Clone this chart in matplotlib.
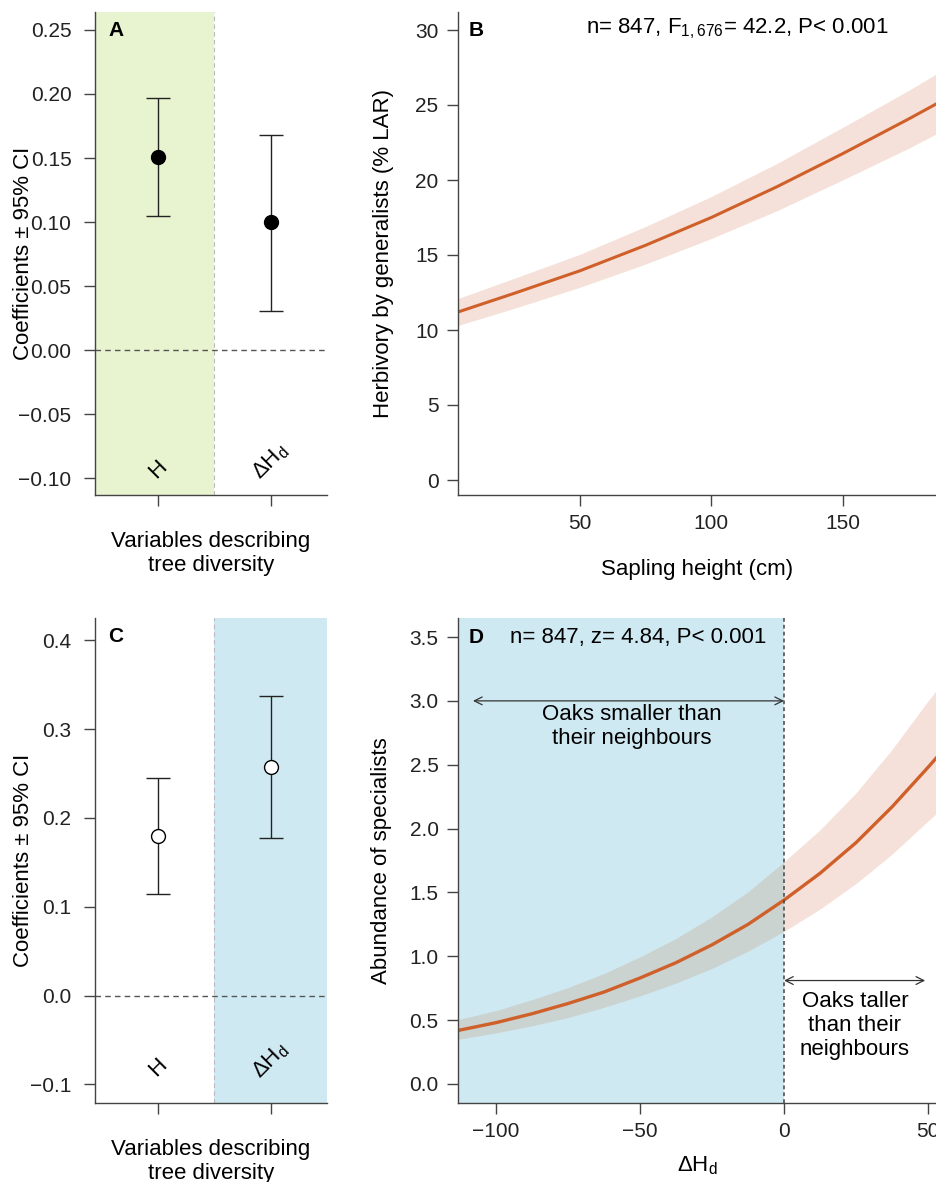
import matplotlib
matplotlib.use("Agg")
from matplotlib import pyplot as plt

plt.rcParams['font.family'] = ['Liberation Sans', 'DejaVu Sans']
plt.rcParams['mathtext.fontset'] = 'custom'
plt.rcParams['mathtext.rm'] = 'Liberation Sans'
plt.rcParams['mathtext.it'] = 'Liberation Sans:italic'
plt.rcParams['font.size'] = 16

# panel A / C: coefficient estimates with 95% CI
var_pos = [1, 2]
var_names = ['H', 'ΔH$_{\\mathrm{d}}$']
a_coef = [0.151, 0.100]
a_lo = [0.105, 0.031]
a_hi = [0.197, 0.168]
c_coef = [0.180, 0.257]
c_lo = [0.114, 0.177]
c_hi = [0.245, 0.337]
a_yticks = [-0.10, -0.05, 0.00, 0.05, 0.10, 0.15, 0.20, 0.25]
c_yticks = [-0.1, 0.0, 0.1, 0.2, 0.3, 0.4]

# panel B: herbivory vs sapling height
b_height = [3.5, 25, 50, 75, 100, 125, 150, 175, 186]
b_fit = [11.2, 12.45, 13.95, 15.65, 17.5, 19.55, 21.75, 24.05, 25.1]
b_lo = [10.3, 11.45, 12.85, 14.4, 16.1, 17.95, 20.0, 22.1, 23.1]
b_hi = [12.1, 13.45, 15.05, 16.9, 18.9, 21.1, 23.5, 25.95, 27.1]

# panel D: specialists vs delta Hd
d_x = [-113, -100, -87.5, -75, -62.5, -50, -37.5, -25, -12.5, 0, 12.5, 25, 37.5, 50, 53.5]
d_fit = [0.42, 0.48, 0.55, 0.63, 0.72, 0.83, 0.95, 1.09, 1.25, 1.44, 1.65, 1.89, 2.17, 2.48, 2.57]
d_hi = [0.505, 0.575, 0.66, 0.755, 0.865, 0.995, 1.14, 1.31, 1.505, 1.74, 1.99, 2.28, 2.62, 3.0, 3.1]
d_lo = [0.35, 0.40, 0.455, 0.52, 0.60, 0.69, 0.79, 0.905, 1.04, 1.195, 1.37, 1.57, 1.80, 2.06, 2.13]

green = '#e8f3d0'
blue = '#cfe9f2'
band = '#f5e1d9'
overlap = '#cbd3d1'
line_col = '#d0602a'
spine_col = '#444444'

W, H = 937, 1182
fig = plt.figure(figsize=(W / 100, H / 100), dpi=100)


def box(l, t, r, b):
    return [l / W, 1 - b / H, (r - l) / W, (b - t) / H]


axA = fig.add_axes(box(95, 12, 327, 495))
axB = fig.add_axes(box(458, 12, 937, 495))
axC = fig.add_axes(box(95, 618, 327, 1103))
axD = fig.add_axes(box(458, 618, 937, 1103))


def style(ax, pad=6):
    for s in ['top', 'right']:
        ax.spines[s].set_visible(False)
    for s in ['left', 'bottom']:
        ax.spines[s].set_color(spine_col)
        ax.spines[s].set_linewidth(1.0)
    ax.tick_params(length=8, width=1, color=spine_col, pad=pad, labelsize=15, labelcolor='#222222')


def fmt(v, nd):
    return f"{v:.{nd}f}".replace('-', '\u2212')


def coef_panel(ax, coef, lo, hi, yticks, nd, ylim, shade_x, shade_col, face, label, lab_y):
    style(ax, pad=9)
    ax.set_xlim(0.44, 2.5)
    ax.set_ylim(*ylim)
    ax.axvspan(shade_x[0], shade_x[1], color=shade_col, zorder=0, lw=0)
    ax.axvline(1.5, color='#bbbbbb', lw=0.8, ls=(0, (4, 3)), zorder=0.5)
    ax.axhline(0, color='#555555', lw=1, ls=(0, (4, 3)), zorder=1)
    yerr = [[c - l for c, l in zip(coef, lo)], [h - c for c, h in zip(coef, hi)]]
    ax.errorbar(var_pos, coef, yerr=yerr, fmt='o', color='black', ecolor='#222222',
                elinewidth=1, capsize=8.5, capthick=1, markersize=10,
                markerfacecolor=face, markeredgecolor='black', markeredgewidth=1, zorder=3)
    ax.set_xticks(var_pos)
    ax.set_xticklabels([])
    ax.set_yticks(yticks)
    ax.set_yticklabels([fmt(v, nd) for v in yticks])
    for p, name, yy in zip(var_pos, var_names, lab_y):
        ax.text(p, yy, name, rotation=45, ha='center', va='center', fontsize=16)
    ax.set_ylabel('Coefficients \u00b1 95% CI', fontsize=16)
    ax.yaxis.set_label_coords(-0.263, 0.5)
    ax.set_xlabel('Variables describing\ntree diversity', fontsize=16, linespacing=1.2)
    ax.xaxis.set_label_coords(0.5, -0.074)
    ax.text(0.09, 0.962, label, transform=ax.transAxes, fontweight='bold',
            ha='center', va='center', fontsize=15)


coef_panel(axA, a_coef, a_lo, a_hi, a_yticks, 2, (-0.113, 0.264),
           (0.44, 1.5), green, 'black', 'A', [-0.093, -0.087])
coef_panel(axC, c_coef, c_lo, c_hi, c_yticks, 1, (-0.121, 0.425),
           (1.5, 2.5), blue, 'white', 'C', [-0.081, -0.073])

# panel B
style(axB)
axB.set_xlim(3.5, 186)
axB.set_ylim(-1.0, 31.2)
axB.fill_between(b_height, b_lo, b_hi, color=band, lw=0, zorder=1)
axB.plot(b_height, b_fit, color=line_col, lw=2.2, zorder=2)
axB.set_xticks([50, 100, 150])
axB.set_yticks([0, 5, 10, 15, 20, 25, 30])
axB.set_xlabel('Sapling height (cm)', fontsize=16)
axB.xaxis.set_label_coords(0.5, -0.132)
axB.set_ylabel('Herbivory by generalists (% LAR)', fontsize=16)
axB.yaxis.set_label_coords(-0.134, 0.5)
axB.text(0.038, 0.962, 'B', transform=axB.transAxes, fontweight='bold',
         ha='center', va='center', fontsize=15)
axB.text(0.583, 0.965, 'n= 847, F$_{\\mathrm{1,676}}$= 42.2, P< 0.001',
         transform=axB.transAxes, ha='center', va='center', fontsize=16)

# panel D
style(axD)
axD.set_xlim(-113.2, 53.1)
axD.set_ylim(-0.149, 3.649)
axD.axvspan(-113.2, 0, color=blue, zorder=0, lw=0)
k = d_x.index(0)
axD.fill_between(d_x[:k + 1], d_lo[:k + 1], d_hi[:k + 1], color=overlap, lw=0, zorder=1)
axD.fill_between(d_x[k:], d_lo[k:], d_hi[k:], color=band, lw=0, zorder=1)
axD.plot(d_x, d_fit, color=line_col, lw=2.4, zorder=2)
axD.axvline(0, color='#444444', lw=1.1, ls=(0, (2.5, 2)), zorder=3)
axD.set_xticks([-100, -50, 0, 50])
axD.set_xticklabels([fmt(v, 0) for v in [-100, -50, 0, 50]])
dy = [0.0, 0.5, 1.0, 1.5, 2.0, 2.5, 3.0, 3.5]
axD.set_yticks(dy)
axD.set_yticklabels([fmt(v, 1) for v in dy])
axD.set_xlabel('ΔH$_{\\mathrm{d}}$', fontsize=16)
axD.xaxis.set_label_coords(0.5, -0.105)
axD.set_ylabel('Abundance of specialists', fontsize=16)
axD.yaxis.set_label_coords(-0.138, 0.5)
axD.text(0.038, 0.96, 'D', transform=axD.transAxes, fontweight='bold',
         ha='center', va='center', fontsize=15)
axD.text(-95, 3.5, 'n= 847, z= 4.84, P< 0.001', ha='left', va='center', fontsize=16)
axD.annotate('', xy=(-108, 3.0), xytext=(0, 3.0),
             arrowprops=dict(arrowstyle='<->', color='#333333', lw=0.9, mutation_scale=14,
                             shrinkA=0, shrinkB=0))
axD.text(-53, 2.8, 'Oaks smaller than\ntheir neighbours', ha='center', va='center',
         fontsize=16, linespacing=1.2)
axD.annotate('', xy=(0, 0.81), xytext=(49, 0.81),
             arrowprops=dict(arrowstyle='<->', color='#333333', lw=0.9, mutation_scale=14,
                             shrinkA=0, shrinkB=0))
axD.text(24.6, 0.46, 'Oaks taller\nthan their\nneighbours', ha='center', va='center',
         fontsize=16, linespacing=1.2)

fig.savefig('out.png', dpi=100)
